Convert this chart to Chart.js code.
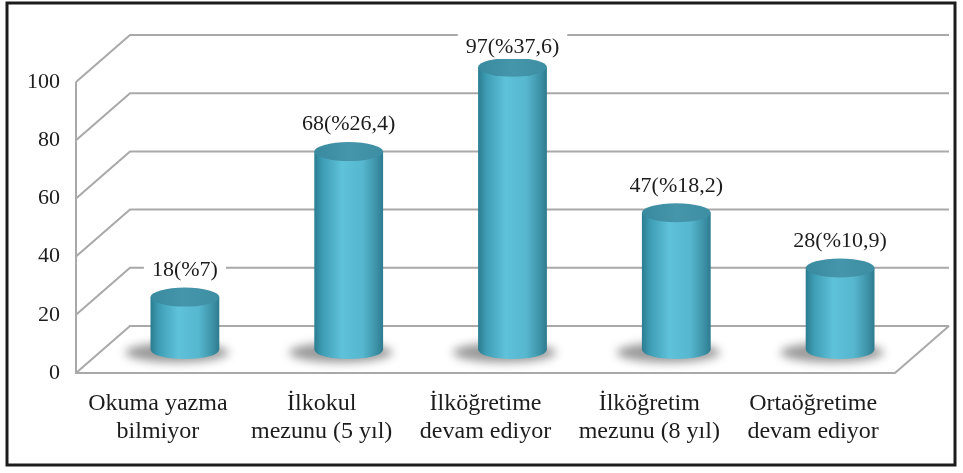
<!DOCTYPE html>
<html>
<head>
<meta charset="utf-8">
<script src="https://cdn.jsdelivr.net/npm/chart.js@4/dist/chart.umd.min.js"></script>
<style>
  html, body { margin: 0; padding: 0; background: #fff; }
</style>
</head>
<body>
<canvas id="chart" width="963" height="473"></canvas>
<script>
const categories = [
  ['Okuma yazma', 'bilmiyor'],
  ['İlkokul', 'mezunu (5 yıl)'],
  ['İlköğretime', 'devam ediyor'],
  ['İlköğretim', 'mezunu (8 yıl)'],
  ['Ortaöğretime', 'devam ediyor']
];
const counts = [18, 68, 97, 47, 28];
const percents = ['7', '26,4', '37,6', '18,2', '10,9'];
const yTicks = [0, 20, 40, 60, 80, 100];

// depth of the fake 3d box (back wall offset)
const DEPTH_X = 54;
const DEPTH_Y = -47;
const FONT = '"Liberation Serif", "DejaVu Serif", serif';

const box3d = {
  id: 'box3d',
  beforeDraw(chart) {
    const ctx = chart.ctx;
    ctx.save();
    ctx.fillStyle = '#fff';
    ctx.fillRect(0, 0, chart.width, chart.height);
    ctx.strokeStyle = '#1c1c1c';
    ctx.lineWidth = 3;
    ctx.strokeRect(7, 3, 948, 462);
    ctx.restore();
  },
  beforeDatasetsDraw(chart) {
    const { ctx, chartArea: a, scales: { y } } = chart;
    const backRight = a.right + DEPTH_X;
    ctx.save();
    ctx.strokeStyle = '#a9a9a9';
    ctx.lineWidth = 2;
    yTicks.forEach(v => {
      const py = y.getPixelForValue(v);
      ctx.beginPath();
      ctx.moveTo(a.left, py);
      ctx.lineTo(a.left + DEPTH_X, py + DEPTH_Y);
      ctx.lineTo(backRight, py + DEPTH_Y);
      ctx.stroke();
    });
    const y0 = y.getPixelForValue(0);
    const yTop = y.getPixelForValue(100);
    ctx.beginPath();
    ctx.moveTo(a.left, yTop);
    ctx.lineTo(a.left, y0);
    ctx.lineTo(a.right, y0);
    ctx.lineTo(backRight, y0 + DEPTH_Y);
    ctx.stroke();
    ctx.restore();
  },
  afterDatasetsDraw(chart) {
    const { ctx, chartArea: a } = chart;
    const meta = chart.getDatasetMeta(0);
    meta.data.forEach((bar, i) => {
      const cx = bar.x + DEPTH_X / 2;
      const top = bar.y + DEPTH_Y / 2;
      const bot = bar.base + DEPTH_Y / 2;
      const rx = bar.width / 2;
      const ry = 9.5;

      // floor shadow
      ctx.save();
      ctx.filter = 'blur(5px)';
      ctx.fillStyle = 'rgba(0,0,0,0.4)';
      ctx.beginPath();
      ctx.ellipse(cx - 8, bot + 3, rx * 1.5, ry * 1.05, 0, 0, Math.PI * 2);
      ctx.fill();
      ctx.restore();

      // body
      const g = ctx.createLinearGradient(cx - rx, 0, cx + rx, 0);
      g.addColorStop(0, '#2b7c90');
      g.addColorStop(0.12, '#3e9db4');
      g.addColorStop(0.4, '#5ec2da');
      g.addColorStop(0.7, '#56b7cf');
      g.addColorStop(0.9, '#3d92a7');
      g.addColorStop(1, '#2e7b8e');
      ctx.save();
      ctx.fillStyle = g;
      ctx.beginPath();
      ctx.moveTo(cx - rx, top);
      ctx.lineTo(cx - rx, bot);
      ctx.ellipse(cx, bot, rx, ry, 0, Math.PI, 0, true);
      ctx.lineTo(cx + rx, top);
      ctx.closePath();
      ctx.fill();

      // top cap
      const t = ctx.createLinearGradient(cx - rx, 0, cx + rx, 0);
      t.addColorStop(0, '#3a8a9f');
      t.addColorStop(0.5, '#4696ab');
      t.addColorStop(1, '#3e8ea3');
      ctx.fillStyle = t;
      ctx.beginPath();
      ctx.ellipse(cx, top, rx, ry, 0, 0, Math.PI * 2);
      ctx.fill();
      ctx.restore();

      // value label with white backing
      const text = counts[i] + '(%' + percents[i] + ')';
      const ly = Math.max(top - 27, a.top - 35);
      ctx.save();
      ctx.font = '22px ' + FONT;
      const w = ctx.measureText(text).width;
      ctx.fillStyle = '#fff';
      ctx.fillRect(cx - w / 2 - 8, ly - 17, w + 16, 29);
      ctx.fillStyle = '#1c1c1c';
      ctx.textAlign = 'center';
      ctx.textBaseline = 'middle';
      ctx.fillText(text, cx, ly);
      ctx.restore();
    });
  }
};

new Chart(document.getElementById('chart'), {
  type: 'bar',
  data: {
    labels: categories,
    datasets: [{
      data: counts,
      backgroundColor: 'rgba(0,0,0,0)',
      borderWidth: 0,
      barPercentage: 0.42,
      categoryPercentage: 1
    }]
  },
  options: {
    responsive: false,
    animation: false,
    devicePixelRatio: 1,
    layout: { padding: { top: 82, right: 68, left: 0, bottom: 0 } },
    plugins: {
      legend: { display: false },
      tooltip: { enabled: false }
    },
    scales: {
      y: {
        min: 0,
        max: 100,
        ticks: {
          stepSize: 20,
          padding: 16,
          color: '#1c1c1c',
          font: { family: FONT, size: 22 }
        },
        grid: { display: false, drawTicks: false },
        border: { display: false },
        afterFit: s => { s.width = 76; }
      },
      x: {
        ticks: {
          padding: 16,
          color: '#1c1c1c',
          maxRotation: 0,
          font: { family: FONT, size: 24, lineHeight: 1.2 }
        },
        grid: { display: false, drawTicks: false },
        border: { display: false },
        afterFit: s => { s.height = 100; }
      }
    }
  },
  plugins: [box3d]
});
</script>
</body>
</html>
